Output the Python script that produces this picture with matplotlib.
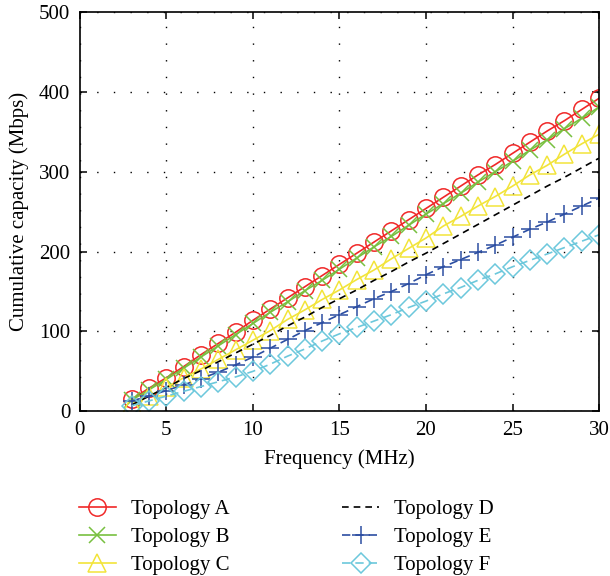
import numpy as np
import matplotlib
matplotlib.use('Agg')
import matplotlib.pyplot as plt

# Frequencies (MHz)
freq = list(range(3, 31))

# Cumulative capacity (Mbps)
topo_a = [15, 29, 42, 56, 71, 85, 99, 114, 128, 142, 156, 170, 184, 198,
          212, 226, 240, 254, 268, 282, 296, 309, 323, 337, 351, 364, 378, 392]
topo_b = [14, 27, 40, 54, 68, 82, 96, 110, 124, 137, 151, 164, 178, 192,
          206, 219, 233, 247, 260, 273, 287, 300, 313, 327, 340, 354, 367, 381]
topo_c = [9, 19, 30, 42, 53, 65, 77, 89, 101, 115, 127, 140, 152, 165,
          177, 191, 204, 217, 232, 244, 257, 269, 282, 296, 308, 322, 335, 347]
topo_d = [8, 19, 30, 41, 51, 62, 73, 84, 95, 107, 118, 130, 141, 152,
          164, 175, 187, 198, 210, 222, 234, 246, 258, 270, 282, 293, 305, 317]
topo_e = [13, 19, 26, 33, 41, 49, 58, 68, 79, 90, 101, 111, 121, 131,
          141, 150, 160, 171, 181, 190, 199, 208, 218, 228, 237, 247, 257, 267]
topo_f = [7, 13, 19, 25, 31, 37, 43, 50, 59, 69, 78, 88, 97, 105,
          113, 121, 130, 138, 147, 155, 164, 172, 181, 189, 197, 205, 213, 221]

labels = ['Topology A', 'Topology B', 'Topology C',
          'Topology D', 'Topology E', 'Topology F']

plt.rcParams['font.family'] = ['Liberation Serif', 'DejaVu Serif']
plt.rcParams['font.size'] = 15

fig = plt.figure(figsize=(6.1, 5.76), dpi=100)
ax = fig.add_axes([0.131, 0.286, 0.851, 0.693])

ax.plot(freq, topo_a, color='#f02828', lw=1.2, marker='o', ms=12.5,
        mfc='none', mew=1.1, label=labels[0])
ax.plot(freq, topo_b, color='#78c040', lw=1.2, marker='x', ms=11,
        mew=1.1, label=labels[1])
ax.plot(freq, topo_c, color='#f2e43a', lw=1.2, marker='^', ms=13,
        mfc='none', mew=1.1, label=labels[2])
ax.plot(freq, topo_d, color='black', lw=1.2, ls=(0, (4, 3)),
        label=labels[3])
ax.plot(freq, topo_e, color='#2c4ea2', lw=1.2, ls=(0, (5, 3)), marker='+',
        ms=13, mew=1.1, label=labels[4])
ax.plot(freq, topo_f, color='#6cc8dc', lw=1.2, ls=(0, (5, 3)), marker='D',
        ms=10, mfc='none', mew=1.1, label=labels[5])

ax.set_xlim(0, 30)
ax.set_ylim(0, 500)
ax.set_xticks(range(0, 31, 5))
ax.set_yticks(range(0, 501, 100))
ax.tick_params(direction='in', top=True, right=True, length=5, width=1.1,
               labelsize=15, pad=7)
for s in ax.spines.values():
    s.set_linewidth(1.2)
ax.grid(True, color='black', ls=(0, (1, 11)), lw=1.0)

ax.set_xlabel('Frequency (MHz)', fontsize=15, labelpad=7)
ax.set_ylabel('Cumulative capacity (Mbps)', fontsize=15, labelpad=7)

fig.legend(loc='upper left', bbox_to_anchor=(0.116, 0.147), ncol=2,
           frameon=False, fontsize=15, handlelength=1.75, handletextpad=0.75,
           columnspacing=5.4, labelspacing=0.4, borderaxespad=0)

fig.savefig('out.png', dpi=100)
